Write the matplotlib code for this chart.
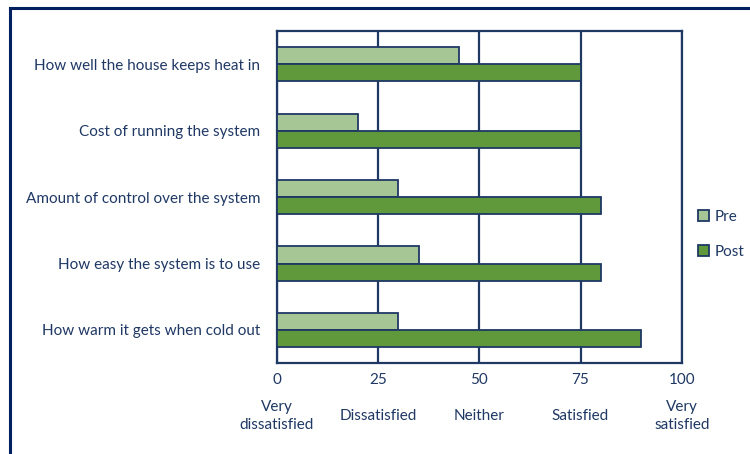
import matplotlib
matplotlib.use("Agg")
import matplotlib.pyplot as plt
from matplotlib.patches import Rectangle
from matplotlib.lines import Line2D
import numpy as np

plt.rcParams['font.family'] = ['Lato', 'DejaVu Sans']

categories = [
    "How well the house keeps heat in",
    "Cost of running the system",
    "Amount of control over the system",
    "How easy the system is to use",
    "How warm it gets when cold out",
]
pre = [45, 20, 30, 35, 30]
post = [75, 75, 80, 80, 90]
tick_values = [0, 25, 50, 75, 100]
scale_labels = ["Very\ndissatisfied", "Dissatisfied", "Neither", "Satisfied", "Very\nsatisfied"]

navy = "#1F3864"
frame_col = "#002060"
pre_col = "#A6C795"
post_col = "#60993C"

fig = plt.figure(figsize=(7.5, 4.54), dpi=100)
ax = fig.add_axes([0.369, 0.200, 0.540, 0.732])

n = len(categories)
y = np.arange(n)[::-1]
h = 0.256
ax.barh(y + h / 2, pre, height=h, color=pre_col, edgecolor=navy, linewidth=1.3, label="Pre", zorder=3)
ax.barh(y - h / 2, post, height=h, color=post_col, edgecolor=navy, linewidth=1.3, label="Post", zorder=3)

ax.set_xlim(0, 100)
ax.set_ylim(-0.5, n - 0.5)
ax.set_xticks(tick_values)
ax.set_xticklabels([str(v) for v in tick_values], color=navy, fontsize=11)
ax.set_yticks(y)
ax.set_yticklabels(categories, color=navy, fontsize=11)
ax.tick_params(axis='y', length=0, pad=12)
ax.tick_params(axis='x', length=0, pad=7)
ax.grid(axis='x', color=navy, linewidth=1.6, zorder=1)
for s in ax.spines.values():
    s.set_color(navy)
    s.set_linewidth(1.6)

# verbal scale under the numeric ticks
for v, lab in zip(tick_values, scale_labels):
    ax.text(v, -0.158, lab, transform=ax.get_xaxis_transform(), ha='center', va='center',
            color=navy, fontsize=11, linespacing=1.35)

handles = [Rectangle((0, 0), 1, 1, facecolor=pre_col, edgecolor=navy, linewidth=1.3),
           Rectangle((0, 0), 1, 1, facecolor=post_col, edgecolor=navy, linewidth=1.3)]
leg = fig.legend(handles, ["Pre", "Post"], loc='center left', bbox_to_anchor=(0.912, 0.484),
                 frameon=False, fontsize=11, handlelength=0.75, handleheight=0.75,
                 handletextpad=0.35, labelspacing=1.4)
for t in leg.get_texts():
    t.set_color(navy)

# outer frame (left and top edges visible)
fig.add_artist(Line2D([0.0127, 0.0127], [0.0, 0.983], color=frame_col, linewidth=2.2,
                      transform=fig.transFigure))
fig.add_artist(Line2D([0.0127, 1.0], [0.983, 0.983], color=frame_col, linewidth=2.2,
                      transform=fig.transFigure))

fig.savefig("out.png", dpi=100)
